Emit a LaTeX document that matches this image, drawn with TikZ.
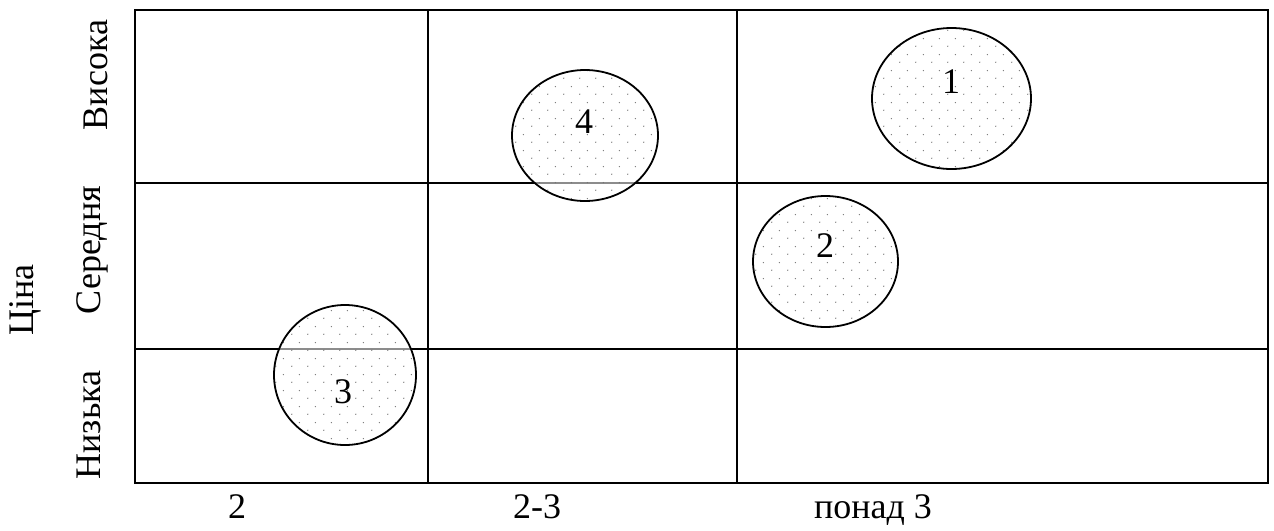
\documentclass[tikz,border=0pt]{standalone}
\usepackage{fontspec}
\setmainfont{Liberation Serif}
\usetikzlibrary{shapes.geometric,patterns.meta}
\tikzdeclarepattern{
  name=stagdots,
  type=uncolored,
  bounding box={(0pt,0pt) and (16pt,16pt)},
  tile size={(16pt,16pt)},
  code={
    \pgfpathcircle{\pgfpoint{4pt}{4pt}}{0.75pt}
    \pgfpathcircle{\pgfpoint{12pt}{12pt}}{0.75pt}
    \pgfusepath{fill}
  }
}
\tikzset{
  gridline/.style={line width=2pt, line cap=rect},
  blob/.style={ellipse, draw, line width=1.8pt, inner sep=0pt,
    preaction={fill=white, fill opacity=0.55},
    pattern=stagdots, pattern color=black!55},
  lbl/.style={font=\fontsize{36}{40}\selectfont, inner sep=0pt, anchor=base},
  vlbl/.style={lbl, rotate=90},
}
\begin{document}
\begin{tikzpicture}[x=1pt,y=-1pt]
\useasboundingbox[fill=white] (0,0) rectangle (1274,530);
% grid
\draw[gridline] (135,10) rectangle (1268,483);
\draw[gridline] (428,10) -- (428,483);
\draw[gridline] (737,10) -- (737,483);
\draw[gridline] (135,183) -- (1268,183);
\draw[gridline] (135,349) -- (1268,349);
% ellipses
\node[blob, minimum width=142pt, minimum height=140pt] (e3) at (345,375) {};
\node[blob, minimum width=146pt, minimum height=131pt] (e4) at (585,135.5) {};
\node[blob, minimum width=145pt, minimum height=131pt] (e2) at (825.5,261.5) {};
\node[blob, minimum width=159pt, minimum height=141pt] (e1) at (951.5,98.5) {};
% numbers
\node[lbl] (n1) at (951,93) {1};
\node[lbl] (n2) at (825,257) {2};
\node[lbl] (n3) at (343,403) {3};
\node[lbl] (n4) at (584,133) {4};
% row labels
\node[vlbl] (vys) at (107,75) {Висока};
\node[vlbl] (ser) at (100,250) {Середня};
\node[vlbl] (niz) at (100,425) {Низька};
\node[vlbl] (tsina) at (33,300) {Ціна};
% column labels
\node[lbl] (c1) at (237,518) {2};
\node[lbl] (c2) at (537,518) {2-3};
\node[lbl] (c3) at (873,518) {понад 3};
\end{tikzpicture}
\end{document}
